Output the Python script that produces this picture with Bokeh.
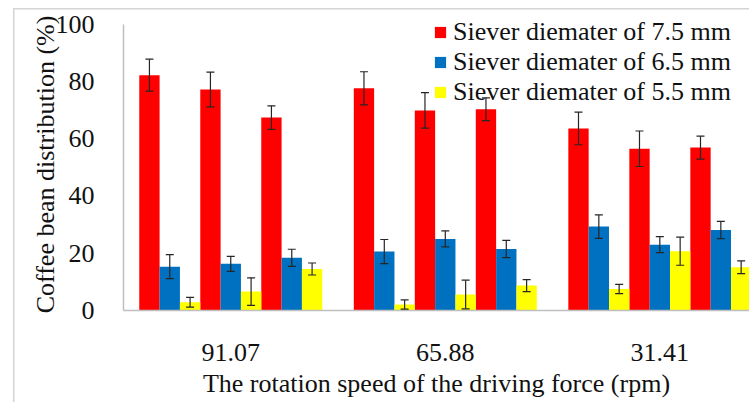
import numpy as np
from bokeh.plotting import figure
from bokeh.models import (ColumnDataSource, Range1d, FixedTicker, Whisker, TeeHead,
                          Legend, LegendItem)
from bokeh.embed import file_html
from bokeh.resources import INLINE

# ---- data ----
speeds = ["91.07", "65.88", "31.41"]
series_names = ["Siever diemater of 7.5 mm", "Siever diemater of 6.5 mm", "Siever diemater of 5.5 mm"]
colors = ["#FF0000", "#0070C0", "#FFFF00"]

# three replicates per speed, in order 91.07 (x3), 65.88 (x3), 31.41 (x3)
d75 = [82.2, 77.2, 67.4, 77.6, 69.9, 70.3, 63.6, 56.5, 56.9]
e75 = [5.6, 6.1, 4.1, 5.8, 6.2, 4.0, 5.7, 6.2, 4.0]
d65 = [15.3, 16.3, 18.4, 20.6, 25.0, 21.5, 29.3, 23.0, 28.1]
e65 = [4.2, 2.6, 3.0, 4.2, 2.8, 3.0, 4.1, 2.8, 3.0]
d55 = [2.9, 6.6, 14.5, 2.1, 5.6, 8.7, 7.5, 20.7, 15.1]
e55 = [1.7, 4.8, 2.1, 1.6, 5.0, 2.1, 1.6, 4.9, 2.2]

y_ticks = [0, 20, 40, 60, 80, 100]

values = [d75, d65, d55]
errors = [e75, e65, e55]

FONT = "Liberation Serif"
n_rep = 3
n_ser = 3
group_frac = 0.853
bar_w = group_frac / (n_rep * n_ser)

p = figure(width=749, height=402, output_backend="svg", toolbar_location=None,
           x_range=Range1d(0, 2.918), y_range=Range1d(0, 102),
           min_border_left=123, min_border_right=0, min_border_top=18, min_border_bottom=92)
p.outline_line_color = None
p.xgrid.grid_line_color = None
p.ygrid.grid_line_color = None
p.background_fill_color = "white"
p.border_fill_color = None
# light grey chart-area border (left and top edges) as in the reference
p.styles = {
    "background": ("linear-gradient(#d4d4d4, #d4d4d4) 13px 8px / 1.5px 100% no-repeat, "
                   "linear-gradient(#d4d4d4, #d4d4d4) 13px 8px / 100% 1.5px no-repeat, white"),
}

legend_items = []
for s in range(n_ser):
    xs, tops, lo, hi = [], [], [], []
    for i, v in enumerate(values[s]):
        g = i // n_rep
        r = i % n_rep
        xs.append(g + (1 - group_frac) / 2 + (r * n_ser + s + 0.5) * bar_w)
        tops.append(v)
        lo.append(v - errors[s][i])
        hi.append(v + errors[s][i])
    src = ColumnDataSource(dict(x=xs, top=tops, lower=lo, upper=hi))
    rr = p.vbar(x="x", top="top", width=bar_w, source=src, fill_color=colors[s], line_color=None)
    legend_items.append(LegendItem(label=series_names[s], renderers=[rr]))
    wh = Whisker(base="x", lower="lower", upper="upper", source=src,
                 line_color="#262626", line_width=1.2, level="annotation",
                 upper_head=TeeHead(size=8, line_color="#262626", line_width=1.2),
                 lower_head=TeeHead(size=8, line_color="#262626", line_width=1.2))
    p.add_layout(wh)

# axes
p.yaxis.ticker = FixedTicker(ticks=y_ticks)
p.yaxis.bounds = (0, 100)
p.xaxis.ticker = FixedTicker(ticks=[0.5, 1.5, 2.5])
p.xaxis.major_label_overrides = {0.5: speeds[0], 1.5: speeds[1], 2.5: speeds[2]}
for ax in (p.xaxis[0], p.yaxis[0]):
    ax.axis_line_color = "#bfbfbf"
    ax.axis_line_width = 1.5
    ax.major_tick_line_color = None
    ax.minor_tick_line_color = None
    ax.major_label_text_font = FONT
    ax.major_label_text_font_size = "26px"
    ax.major_label_text_color = "#111111"
    ax.axis_label_text_font = FONT
    ax.axis_label_text_font_size = "26px"
    ax.axis_label_text_font_style = "normal"
    ax.axis_label_text_color = "#111111"

p.yaxis.axis_label = "Coffee bean distribution (%)"
p.yaxis.major_label_standoff = 23
p.yaxis.axis_label_standoff = -7
p.xaxis.axis_label = "The rotation speed of the driving force (rpm)"
p.xaxis.major_label_standoff = 27
p.xaxis.axis_label_standoff = 5

legend = Legend(items=legend_items, location=(310, 203),
                label_text_font=FONT, label_text_font_size="26px", label_text_color="#111111",
                glyph_width=14, glyph_height=14, label_standoff=6, spacing=0,
                padding=0, margin=0, label_height=30,
                background_fill_alpha=0, border_line_color=None)
p.add_layout(legend)

open("out.html", "w").write(file_html(p, INLINE))
